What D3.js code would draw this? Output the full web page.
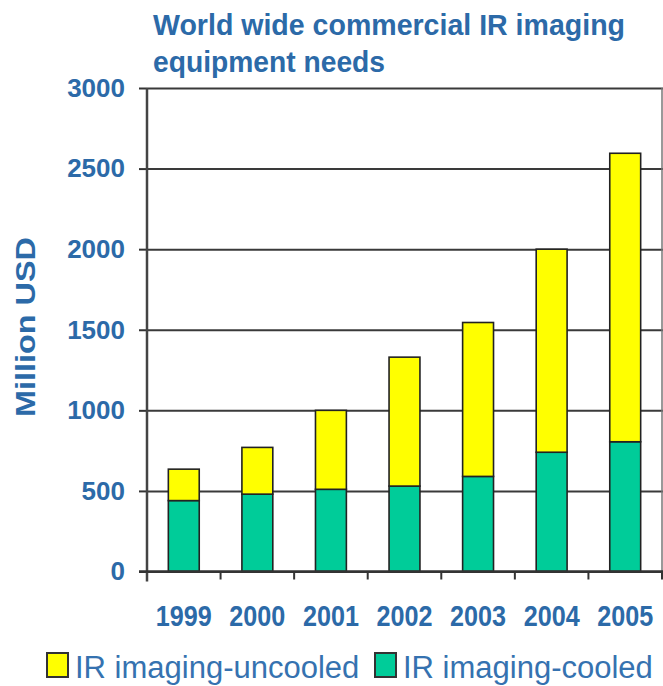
<!DOCTYPE html>
<html>
<head>
<meta charset="utf-8">
<script src="https://cdn.jsdelivr.net/npm/d3@7"></script>
<style>
  html, body { margin: 0; padding: 0; background: #fff; }
  svg { display: block; }
  text { font-family: "Liberation Sans", Arial, sans-serif; }
</style>
</head>
<body>
<svg id="chart" width="663" height="686"></svg>
<script>
// Market size, million USD
const years = ["1999", "2000", "2001", "2002", "2003", "2004", "2005"];
const cooled = [440, 480, 510, 530, 590, 740, 805];
const uncooled = [195, 290, 490, 800, 955, 1260, 1790];
const yTicks = [0, 500, 1000, 1500, 2000, 2500, 3000];
const seriesNames = ["IR imaging-cooled", "IR imaging-uncooled"];
const seriesColors = ["#00cc99", "#ffff00"];
const titleLines = ["World wide commercial IR imaging", "equipment needs"];

const svg = d3.select("#chart");
const blue = "#2c6aa8";
const plotLeft = 147, plotRight = 662, plotTop = 88, plotBottom = 571.5;

const x = d3.scaleBand().domain(years).range([plotLeft, plotRight])
  .paddingInner(0.58).paddingOuter(0.29);
const y = d3.scaleLinear().domain([0, 3000]).range([plotBottom, plotTop]);

// Title
svg.append("text").attr("x", 153).attr("y", 35)
  .attr("font-size", 30).attr("font-weight", "bold").attr("fill", blue)
  .attr("textLength", 472).attr("lengthAdjust", "spacingAndGlyphs")
  .text(titleLines[0]);
svg.append("text").attr("x", 153).attr("y", 72)
  .attr("font-size", 30).attr("font-weight", "bold").attr("fill", blue)
  .attr("textLength", 232).attr("lengthAdjust", "spacingAndGlyphs")
  .text(titleLines[1]);

// Gridlines
svg.append("g").attr("transform", `translate(${plotLeft},0)`)
  .call(d3.axisLeft(y).tickValues(yTicks).tickSize(-(plotRight - plotLeft + 1)).tickFormat(""))
  .call(g => g.select(".domain").remove())
  .call(g => g.selectAll("line").attr("stroke", "#3a3a3a").attr("stroke-width", 2));

// Right frame edge
svg.append("line").attr("x1", plotRight).attr("x2", plotRight)
  .attr("y1", y(3000)).attr("y2", y(0))
  .attr("stroke", "#777").attr("stroke-width", 1.5);

// Stacked bars
const rows = years.map((yr, i) => ({ year: yr, cooled: cooled[i], uncooled: uncooled[i] }));
const stack = d3.stack().keys(["cooled", "uncooled"])(rows);
svg.append("g").selectAll("g").data(stack).join("g")
  .attr("fill", (d, i) => seriesColors[i])
  .selectAll("rect").data(d => d).join("rect")
  .attr("x", d => x(d.data.year))
  .attr("width", x.bandwidth())
  .attr("y", d => y(d[1]))
  .attr("height", d => y(d[0]) - y(d[1]))
  .attr("stroke", "#222").attr("stroke-width", 1.6);

// Y axis
svg.append("g").attr("transform", `translate(${plotLeft},0)`)
  .call(d3.axisLeft(y).tickValues(yTicks).tickFormat(d3.format("d")).tickSize(8).tickPadding(14))
  .call(g => g.select(".domain").remove())
  .call(g => g.selectAll("line").attr("stroke", "#333").attr("stroke-width", 2))
  .call(g => g.selectAll("text").attr("font-size", 26).attr("font-weight", "bold")
    .attr("fill", blue).attr("font-family", "Liberation Sans, Arial, sans-serif"));
svg.append("line").attr("x1", plotLeft).attr("x2", plotLeft)
  .attr("y1", y(3000)).attr("y2", plotBottom + 10)
  .attr("stroke", "#444").attr("stroke-width", 2.5);

// X axis line, boundary ticks and year labels
svg.append("line").attr("x1", plotLeft - 8).attr("x2", 663)
  .attr("y1", y(0)).attr("y2", y(0))
  .attr("stroke", "#333").attr("stroke-width", 2.5);
svg.append("g").selectAll("line").data(years).join("line")
  .attr("x1", d => x(d) + x.bandwidth() + x.step() * x.paddingInner() / 2)
  .attr("x2", d => x(d) + x.bandwidth() + x.step() * x.paddingInner() / 2)
  .attr("y1", y(0)).attr("y2", y(0) + 8)
  .attr("stroke", "#333").attr("stroke-width", 2);
svg.append("g").selectAll("text").data(years).join("text")
  .attr("x", d => x(d) + x.bandwidth() / 2 - 28)
  .attr("y", 626)
  .attr("font-size", 30).attr("font-weight", "bold").attr("fill", blue)
  .attr("textLength", 56).attr("lengthAdjust", "spacingAndGlyphs")
  .text(d => d);

// Y axis title
svg.append("text")
  .attr("transform", "translate(35,327) rotate(-90)")
  .attr("text-anchor", "middle")
  .attr("font-size", 28).attr("font-weight", "bold").attr("fill", blue)
  .attr("textLength", 180).attr("lengthAdjust", "spacingAndGlyphs")
  .text("Million USD");

// Legend
const legendItems = [
  { name: seriesNames[1], color: seriesColors[1], x: 47 },
  { name: seriesNames[0], color: seriesColors[0], x: 375 }
];
const lg = svg.append("g").selectAll("g").data(legendItems).join("g")
  .attr("transform", d => `translate(${d.x},653)`);
lg.append("rect").attr("width", 21).attr("height", 24)
  .attr("fill", d => d.color).attr("stroke", "#333").attr("stroke-width", 2);
lg.append("text").attr("x", 28).attr("y", 25)
  .attr("font-size", 31).attr("fill", "#3572b0")
  .text(d => d.name);
</script>
</body>
</html>
